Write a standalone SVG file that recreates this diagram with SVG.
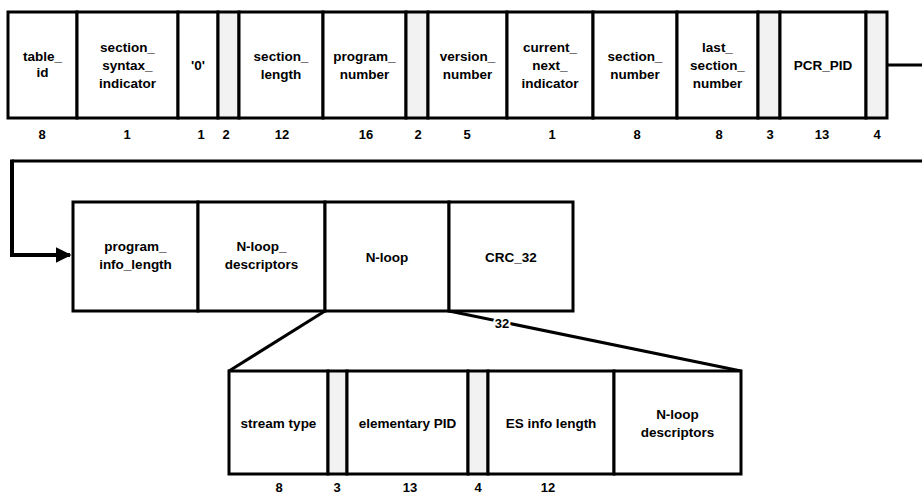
<svg xmlns="http://www.w3.org/2000/svg" width="922" height="498" viewBox="0 0 922 498">
<style>
.f{fill:#fff;stroke:#000;stroke-width:3}
.n{fill:#f2f2f2;stroke:#000;stroke-width:3}
.t{font-family:"Liberation Sans",Arial,sans-serif;font-weight:bold;font-size:13.5px;text-anchor:middle;fill:#000}
.d{font-family:"Liberation Sans",Arial,sans-serif;font-weight:bold;font-size:13px;text-anchor:middle;fill:#000}
.c{fill:none;stroke:#000;stroke-width:3}
</style>
<defs>
<marker id="ah" viewBox="0 0 10 10" refX="9" refY="5" markerWidth="4" markerHeight="4" orient="auto" markerUnits="strokeWidth">
<path d="M0,0 L10,5 L0,10 z" fill="#000"/>
</marker>
</defs>
<rect width="922" height="498" fill="#fff"/>

<g id="connectors">
<polyline class="c" points="887,65 922,65"/>
<polyline class="c" points="922,161 12,161"/>
<polyline class="c" style="stroke-width:4" points="12,159.5 12,255 70,255" marker-end="url(#ah)"/>
<line class="c" x1="325" y1="311" x2="229" y2="371"/>
<line class="c" x1="449" y1="311" x2="741" y2="371"/>
<text class="d" x="502" y="328" style="stroke:#fff;stroke-width:4;paint-order:stroke">32</text>
</g>

<g id="table_id"><rect class="f" x="8" y="12" width="69" height="106"/><text class="t" x="42.5" y="61">table_</text><text class="t" x="42.5" y="77">id</text><text class="d" x="42" y="139">8</text></g>
<g id="section_syntax_indicator"><rect class="f" x="77" y="12" width="101" height="106"/><text class="t" x="127.5" y="52">section_</text><text class="t" x="127.5" y="70">syntax_</text><text class="t" x="127.5" y="88">indicator</text><text class="d" x="127" y="139">1</text></g>
<g id="zero"><rect class="f" x="178" y="12" width="40" height="106"/><text class="t" x="198" y="70">'0'</text><text class="d" x="201" y="139">1</text></g>
<g id="reserved1"><rect class="n" x="218" y="12" width="21" height="106"/><text class="d" x="226" y="139">2</text></g>
<g id="section_length"><rect class="f" x="239" y="12" width="84" height="106"/><text class="t" x="281" y="61">section_</text><text class="t" x="281" y="79">length</text><text class="d" x="282" y="139">12</text></g>
<g id="program_number"><rect class="f" x="323" y="12" width="83" height="106"/><text class="t" x="364.5" y="61">program_</text><text class="t" x="364.5" y="79">number</text><text class="d" x="366" y="139">16</text></g>
<g id="reserved2"><rect class="n" x="406" y="12" width="22" height="106"/><text class="d" x="418" y="139">2</text></g>
<g id="version_number"><rect class="f" x="428" y="12" width="79" height="106"/><text class="t" x="467.5" y="61">version_</text><text class="t" x="467.5" y="79">number</text><text class="d" x="467" y="139">5</text></g>
<g id="current_next_indicator"><rect class="f" x="507" y="12" width="86" height="106"/><text class="t" x="550" y="52">current_</text><text class="t" x="550" y="70">next_</text><text class="t" x="550" y="88">indicator</text><text class="d" x="552" y="139">1</text></g>
<g id="section_number"><rect class="f" x="593" y="12" width="84" height="106"/><text class="t" x="635" y="61">section_</text><text class="t" x="635" y="79">number</text><text class="d" x="637" y="139">8</text></g>
<g id="last_section_number"><rect class="f" x="677" y="12" width="81" height="106"/><text class="t" x="717.5" y="52">last_</text><text class="t" x="717.5" y="70">section_</text><text class="t" x="717.5" y="88">number</text><text class="d" x="719" y="139">8</text></g>
<g id="reserved3"><rect class="n" x="758" y="12" width="22" height="106"/><text class="d" x="770" y="139">3</text></g>
<g id="PCR_PID"><rect class="f" x="780" y="12" width="86" height="106"/><text class="t" x="823" y="70">PCR_PID</text><text class="d" x="822" y="139">13</text></g>
<g id="reserved4"><rect class="n" x="866" y="12" width="21" height="106"/><text class="d" x="877" y="139">4</text></g>

<g id="program_info_length"><rect class="f" x="73" y="202" width="125" height="109"/><text class="t" x="135.5" y="251">program_</text><text class="t" x="135.5" y="269">info_length</text></g>
<g id="N-loop_descriptors"><rect class="f" x="198" y="202" width="127" height="109"/><text class="t" x="261.5" y="251">N-loop_</text><text class="t" x="261.5" y="269">descriptors</text></g>
<g id="N-loop"><rect class="f" x="325" y="202" width="124" height="109"/><text class="t" x="387" y="262">N-loop</text></g>
<g id="CRC_32"><rect class="f" x="449" y="202" width="124" height="109"/><text class="t" x="511" y="262">CRC_32</text></g>

<g id="stream_type"><rect class="f" x="229" y="371" width="99" height="103"/><text class="t" x="278.5" y="428">stream type</text><text class="d" x="279" y="492">8</text></g>
<g id="reserved5"><rect class="n" x="328" y="371" width="19" height="103"/><text class="d" x="337" y="492">3</text></g>
<g id="elementary_PID"><rect class="f" x="347" y="371" width="121" height="103"/><text class="t" x="407.5" y="428">elementary PID</text><text class="d" x="410" y="492">13</text></g>
<g id="reserved6"><rect class="n" x="468" y="371" width="20" height="103"/><text class="d" x="478" y="492">4</text></g>
<g id="ES_info_length"><rect class="f" x="488" y="371" width="126" height="103"/><text class="t" x="551" y="428">ES info length</text><text class="d" x="548" y="492">12</text></g>
<g id="N-loop_descriptors2"><rect class="f" x="614" y="371" width="127" height="103"/><text class="t" x="677.5" y="419">N-loop</text><text class="t" x="677.5" y="437">descriptors</text></g>
</svg>
